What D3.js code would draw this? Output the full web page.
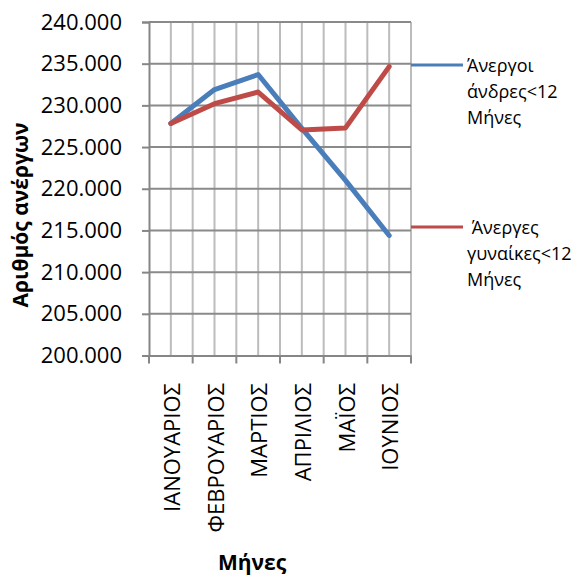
<!DOCTYPE html>
<html>
<head>
<meta charset="utf-8">
<script src="https://cdn.jsdelivr.net/npm/d3@7"></script>
<style>
  body { margin: 0; background: #fff; }
  text { font-family: "Open Sans", sans-serif; fill: #000; }
</style>
</head>
<body>
<div id="chart"></div>
<script>
var months = ["ΙΑΝΟΥΑΡΙΟΣ", "ΦΕΒΡΟΥΑΡΙΟΣ", "ΜΑΡΤΙΟΣ", "ΑΠΡΙΛΙΟΣ", "ΜΑΪΟΣ", "ΙΟΥΝΙΟΣ"];
var men = [227830, 231900, 233700, 227250, 221000, 214400];
var women = [227830, 230200, 231600, 227050, 227300, 234650];
var seriesNames = [["Άνεργοι", "άνδρες<12", "Μήνες"], [" Άνεργες", "γυναίκες<12", "Μήνες"]];
var seriesColors = ["#4a7ebb", "#be4b48"];
var yTicks = [200000, 205000, 210000, 215000, 220000, 225000, 230000, 235000, 240000];

var width = 578, height = 578;
var plotLeft = 149, plotRight = 411, plotTop = 22, plotBottom = 355.5;

var svg = d3.select("#chart").append("svg")
  .attr("width", width)
  .attr("height", height);

var x = d3.scaleBand().domain(months).range([plotLeft, plotRight]);
var y = d3.scaleLinear().domain([200000, 240000]).range([plotBottom, plotTop]);

// vertical grid, one line per category edge and one at each centre
var vLines = [];
months.forEach(function(m) {
  vLines.push(x(m) + x.bandwidth() / 2);
  vLines.push(x(m) + x.bandwidth());
});
svg.append("g").selectAll("line")
  .data(vLines)
  .enter().append("line")
  .attr("x1", function(d) { return d; })
  .attr("x2", function(d) { return d; })
  .attr("y1", plotTop)
  .attr("y2", plotBottom)
  .attr("stroke", "#bcbcbc")
  .attr("stroke-width", 2);

// horizontal grid
svg.append("g").selectAll("line")
  .data(yTicks.slice(1))
  .enter().append("line")
  .attr("x1", plotLeft)
  .attr("x2", plotRight)
  .attr("y1", function(d) { return y(d); })
  .attr("y2", function(d) { return y(d); })
  .attr("stroke", "#8a8a8a")
  .attr("stroke-width", 2);

var yAxis = svg.append("g")
  .attr("transform", "translate(" + plotLeft + ",0)")
  .call(d3.axisLeft(y).tickValues(yTicks).tickSize(7).tickPadding(20)
    .tickFormat(function(d) { return (d / 1000) + ".000"; }));
yAxis.select(".domain").attr("stroke", "#868686").attr("stroke-width", 2);
yAxis.selectAll(".tick line").attr("stroke", "#868686").attr("stroke-width", 2);
yAxis.selectAll(".tick text")
  .style("font-size", "22px")
  .attr("font-family", null);

var xAxis = svg.append("g")
  .attr("transform", "translate(0," + plotBottom + ")")
  .call(d3.axisBottom(x).tickSize(0).tickFormat(""));
xAxis.select(".domain").attr("stroke", "#868686").attr("stroke-width", 2);

// tick marks at category edges
svg.append("g").selectAll("line")
  .data([plotLeft].concat(months.map(function(m) { return x(m) + x.bandwidth(); })))
  .enter().append("line")
  .attr("x1", function(d) { return d; })
  .attr("x2", function(d) { return d; })
  .attr("y1", plotBottom)
  .attr("y2", plotBottom + 8)
  .attr("stroke", "#868686")
  .attr("stroke-width", 2);

// rotated month labels
svg.append("g").selectAll("text")
  .data(months)
  .enter().append("text")
  .attr("transform", function(d) {
    return "translate(" + (x(d) + x.bandwidth() / 2 + 9) + ",383) rotate(-90)";
  })
  .attr("text-anchor", "end")
  .style("font-size", "22px")
  .text(function(d) { return d; });

// lines
var line = d3.line()
  .x(function(d, i) { return x(months[i]) + x.bandwidth() / 2; })
  .y(function(d) { return y(d); });

[men, women].forEach(function(s, k) {
  svg.append("path")
    .datum(s)
    .attr("d", line)
    .attr("fill", "none")
    .attr("stroke", seriesColors[k])
    .attr("stroke-width", 5)
    .attr("stroke-linejoin", "round")
    .attr("stroke-linecap", "round");
});

// legend
var legendY = [65, 227];
seriesNames.forEach(function(lines, k) {
  var g = svg.append("g").attr("transform", "translate(0," + legendY[k] + ")");
  g.append("line")
    .attr("x1", 411).attr("x2", 463)
    .attr("y1", 0).attr("y2", 0)
    .attr("stroke", seriesColors[k])
    .attr("stroke-width", 3);
  var t = g.append("text")
    .attr("x", 467)
    .attr("y", 7)
    .style("font-size", "18px")
    .attr("xml:space", "preserve");
  lines.forEach(function(l, i) {
    t.append("tspan").attr("x", 467).attr("dy", i === 0 ? 0 : 26).text(l);
  });
});

// axis titles
svg.append("text")
  .attr("x", 252)
  .attr("y", 570)
  .attr("text-anchor", "middle")
  .style("font-size", "21px")
  .style("font-weight", "bold")
  .text("Μήνες");

svg.append("text")
  .attr("transform", "translate(28,215) rotate(-90)")
  .attr("text-anchor", "middle")
  .style("font-size", "21px")
  .style("font-weight", "bold")
  .text("Αριθμός ανέργων");
</script>
</body>
</html>
